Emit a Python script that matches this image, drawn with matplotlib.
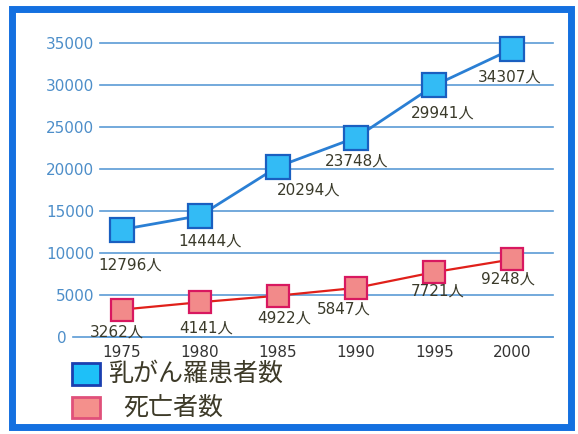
import matplotlib
matplotlib.use("Agg")
import matplotlib.pyplot as plt
import matplotlib.transforms as mtransforms
from matplotlib.patches import Rectangle

# data
years = [1975, 1980, 1985, 1990, 1995, 2000]
patients = [12796, 14444, 20294, 23748, 29941, 34307]
deaths = [3262, 4141, 4922, 5847, 7721, 9248]
y_ticks = [0, 5000, 10000, 15000, 20000, 25000, 30000, 35000]
legend_labels = ["乳がん羅患者数", "死亡者数"]

# label offsets in pixels (dx, dy) from each marker
patient_offsets = [(8, -36), (10, -25), (31, -24), (0, -24), (8, -28), (-3, -28)]
death_offsets = [(-5, -22), (6, -26), (6, -22), (-12, -21), (3, -19), (-4, -20)]

plt.rcParams['font.family'] = ['DejaVu Sans', 'Noto Sans CJK JP']

W, H = 578, 434
fig = plt.figure(figsize=(W / 100, H / 100), dpi=100)
ax = fig.add_axes([100 / W, 97 / H, 453 / W, 294 / H])

ax.set_xlim(1973.6, 2002.6)
ax.set_ylim(0, 35000)
ax.set_yticks(y_ticks)
ax.set_xticks(years)
for s in ax.spines.values():
    s.set_visible(False)
ax.grid(axis='y', color='#5b9bd5', linewidth=1.2)
for gl in ax.get_ygridlines():
    gl.set_clip_on(False)
ax.tick_params(axis='y', length=0, pad=4, labelsize=11, labelcolor='#4d8ec9')
ax.tick_params(axis='x', length=0, pad=6, labelsize=11, labelcolor='#333333')

# zero line reaches further left
ax.plot([-0.06, 1], [0, 0], transform=ax.get_yaxis_transform(), color='#5b9bd5',
        linewidth=1.2, clip_on=False)
zero_lab = ax.get_yticklabels()[0]
zero_lab.set_transform(zero_lab.get_transform() +
                       mtransforms.ScaledTranslation(-0.28, 0, fig.dpi_scale_trans))

ax.plot(years, patients, color='#2a7fd4', linewidth=2, marker='s', markersize=17,
        markerfacecolor='#33bbf5', markeredgecolor='#1a5fc0', markeredgewidth=1.6,
        clip_on=False, zorder=3)
ax.plot(years, deaths, color='#e0201a', linewidth=1.6, marker='s', markersize=16,
        markerfacecolor='#f28a8a', markeredgecolor='#d81860', markeredgewidth=1.6,
        clip_on=False, zorder=3)

for x, v, (dx, dy) in zip(years, patients, patient_offsets):
    ax.annotate(f"{v}人", (x, v), xytext=(dx, dy), textcoords='offset pixels',
                ha='center', va='center', fontsize=11, color='#3a3a2a')
for x, v, (dx, dy) in zip(years, deaths, death_offsets):
    ax.annotate(f"{v}人", (x, v), xytext=(dx, dy), textcoords='offset pixels',
                ha='center', va='center', fontsize=11, color='#3a3a2a')

# legend drawn by hand below the chart
fig.patches.append(Rectangle((72 / W, (H - 385) / H), 28 / W, 22 / H, transform=fig.transFigure,
                             facecolor='#1ec0f8', edgecolor='#1a3fb0', linewidth=2))
fig.patches.append(Rectangle((72 / W, (H - 418) / H), 28 / W, 21 / H, transform=fig.transFigure,
                             facecolor='#f4908c', edgecolor='#e0507a', linewidth=2))
fig.text(108 / W, 1 - 374 / H, legend_labels[0], va='center', fontsize=18,
         family='Noto Sans CJK JP', color='#3d3a28')
fig.text(123 / W, 1 - 408 / H, legend_labels[1], va='center', fontsize=18,
         family='Noto Sans CJK JP', color='#3d3a28')

# blue frame
fig.patches.append(Rectangle((12.5 / W, 7.5 / H), 558 / W, 418 / H, transform=fig.transFigure,
                             fill=False, edgecolor='#1470e0', linewidth=5))

fig.savefig("out.png", dpi=100)
